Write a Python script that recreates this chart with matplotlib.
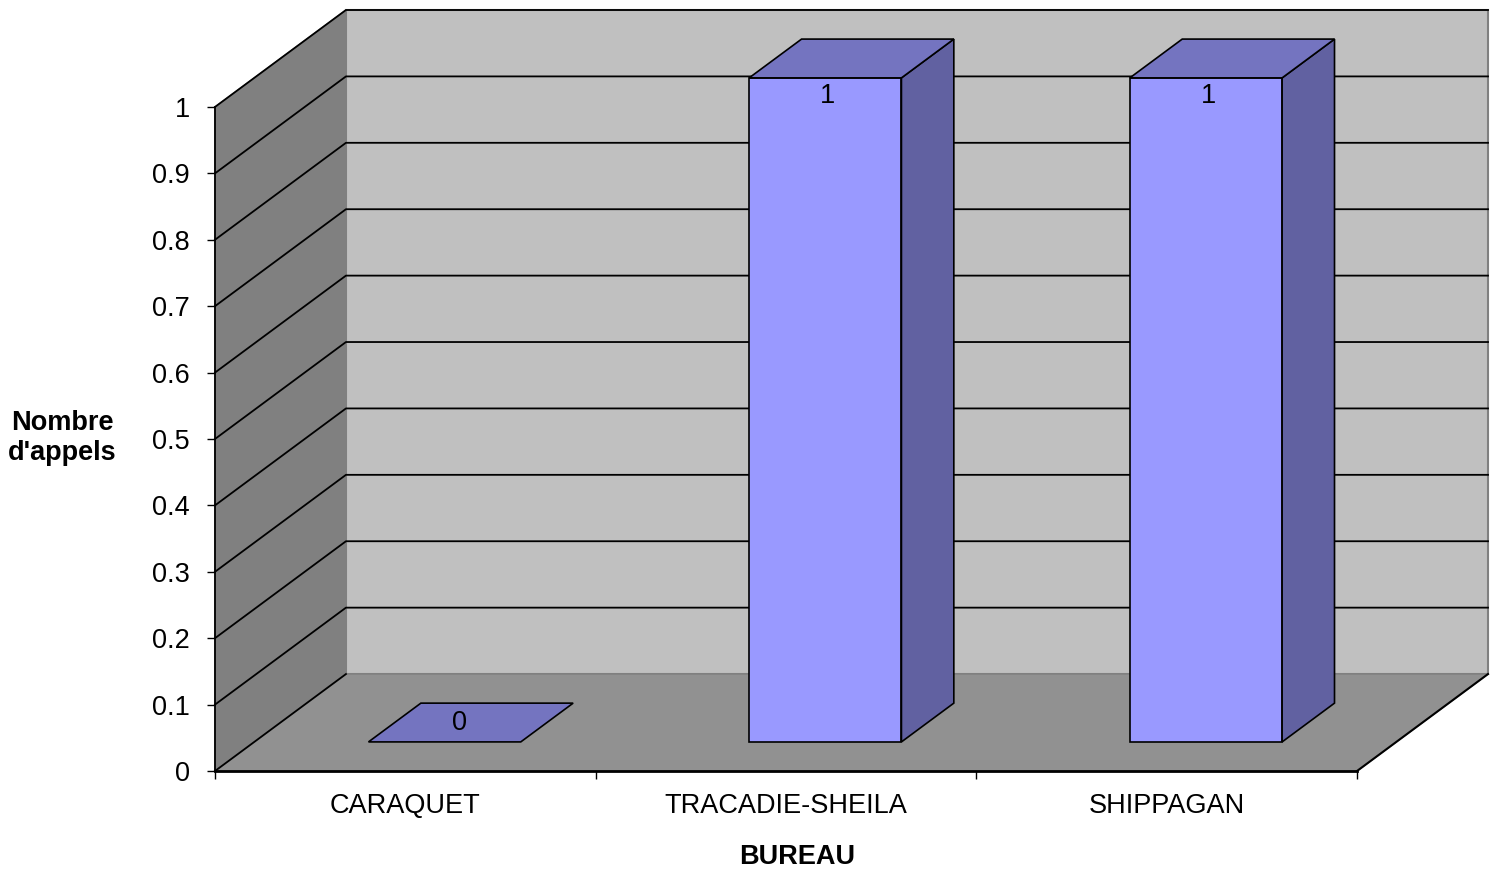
import matplotlib
matplotlib.use("Agg")
import matplotlib.pyplot as plt
from matplotlib.patches import Polygon
import numpy as np

plt.rcParams['font.family'] = ['Liberation Sans', 'DejaVu Sans']

# data
bureaux = ["CARAQUET", "TRACADIE-SHEILA", "SHIPPAGAN"]
appels = [0, 1, 1]
y_ticks = [0, 0.1, 0.2, 0.3, 0.4, 0.5, 0.6, 0.7, 0.8, 0.9, 1]

# 3D look: depth offset of the back wall in data units
DX = 0.344
DY = 0.146
n = len(bureaux)
FS = 19.5

fig = plt.figure(figsize=(14.96, 8.73), dpi=100)
ax = fig.add_axes([215 / 1496, 102 / 873, 1273 / 1496, 761 / 873])
ax.set_xlim(0, n + DX)
ax.set_ylim(0, 1 + DY)

ymax = max(y_ticks)

# walls and floor
left_wall = Polygon([(0, 0), (0, ymax), (DX, ymax + DY), (DX, DY)],
                    facecolor="#808080", edgecolor="#808080", lw=1, zorder=1, clip_on=False)
back_wall = Polygon([(DX, DY), (DX, ymax + DY), (n + DX, ymax + DY), (n + DX, DY)],
                    facecolor="#c0c0c0", edgecolor="#808080", lw=1.5, zorder=1, clip_on=False)
floor = Polygon([(0, 0), (n, 0), (n + DX, DY), (DX, DY)],
                facecolor="#919191", edgecolor="#808080", lw=1, zorder=2, clip_on=False)
ax.add_patch(left_wall)
ax.add_patch(back_wall)
ax.add_patch(floor)
# floor outline (right edge)
ax.plot([n, n + DX], [0, DY], color="black", lw=1.5, zorder=3, clip_on=False)

# gridlines on the walls
for v in y_ticks[1:]:
    ax.plot([0, DX, n + DX], [v, v + DY, v + DY], color="black", lw=1.3, zorder=2, clip_on=False)
ax.plot([0, DX], [0, DY], color="black", lw=1.3, zorder=3, clip_on=False)

# bars
w = 0.4
f0, f1 = 0.3, 0.7
ddx, ddy = (f1 - f0) * DX, (f1 - f0) * DY
for i, v in enumerate(appels):
    x0 = i + (1 - w) / 2 + f0 * DX
    x1 = x0 + w
    yb = f0 * DY
    yt = yb + v
    if v > 0:
        ax.add_patch(Polygon([(x0, yb), (x1, yb), (x1, yt), (x0, yt)],
                             facecolor="#9999ff", edgecolor="black", lw=1.2, zorder=5))
        ax.add_patch(Polygon([(x1, yb), (x1, yt), (x1 + ddx, yt + ddy), (x1 + ddx, yb + ddy)],
                             facecolor="#6161a1", edgecolor="black", lw=1.2, zorder=5))
    ax.add_patch(Polygon([(x0, yt), (x1, yt), (x1 + ddx, yt + ddy), (x0 + ddx, yt + ddy)],
                         facecolor="#7474c0", edgecolor="black", lw=1.2, zorder=5))
    xc = (x0 + x1) / 2
    if v == 0:
        ax.text(xc + 0.04, yt + 0.028, f"{v:g}", ha="center", va="center", fontsize=FS, zorder=6)
    else:
        ax.text(xc + 0.007, yt - 0.028, f"{v:g}", ha="center", va="center", fontsize=FS, zorder=6)

# axes
for s in ["top", "right"]:
    ax.spines[s].set_visible(False)
ax.spines["left"].set_bounds(0, ymax)
ax.spines["bottom"].set_bounds(0, n)
ax.spines["left"].set_linewidth(1.3)
ax.spines["bottom"].set_linewidth(2)
ax.spines["left"].set_zorder(4)
ax.spines["bottom"].set_zorder(4)

ax.set_yticks(y_ticks)
ax.set_yticklabels([f"{t:g}" for t in y_ticks])
ax.tick_params(axis="y", direction="out", length=6, width=1, labelsize=FS, pad=12)

ax.set_xticks(np.arange(n + 1))
ax.set_xticklabels([])
ax.set_xticks(np.arange(n) + 0.5, minor=True)
ax.set_xticklabels(bureaux, minor=True)
ax.tick_params(axis="x", which="major", direction="out", length=6, width=1)
ax.tick_params(axis="x", which="minor", length=0, labelsize=FS, pad=16)

fig.text(62 / 1496, 1 - 438 / 873, "Nombre\nd'appels", ha="center", va="center",
         fontsize=FS, fontweight="bold", linespacing=1.15)
fig.text(797 / 1496, 1 - 857 / 873, "BUREAU", ha="center", va="center",
         fontsize=FS, fontweight="bold")

fig.savefig("out.png", dpi=100)
